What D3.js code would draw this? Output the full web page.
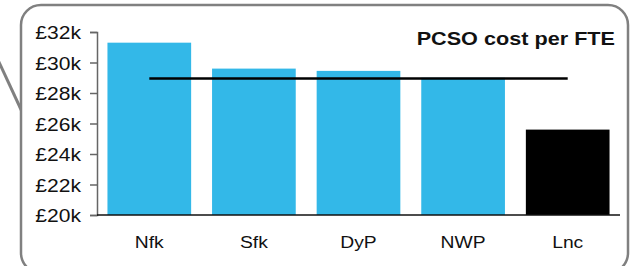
<!DOCTYPE html>
<html>
<head>
<meta charset="utf-8">
<script src="https://cdn.jsdelivr.net/npm/d3@7"></script>
<style>
  body { margin: 0; background: #fff; }
  text { font-family: "Liberation Sans", Arial, sans-serif; fill: #111; }
</style>
</head>
<body>
<svg id="chart" width="639" height="266"></svg>
<script>
// data
var categories = ["Nfk", "Sfk", "DyP", "NWP", "Lnc"];
var costs = [31.3, 29.6, 29.45, 29.0, 25.6];      // £k per FTE
var barColours = ["#33b8e8", "#33b8e8", "#33b8e8", "#33b8e8", "#000000"];
var average = 28.95;
var yTicks = [20, 22, 24, 26, 28, 30, 32];
var title = "PCSO cost per FTE";

var vis = d3.select("#chart"),
    STRETCH = 1.17,   // the original picture is widened a bit
    MARGINS = { left: 97, right: 19, top: 32, bottom: 51 },
    WIDTH = 639, HEIGHT = 266;

// callout pointer behind the frame
vis.append("line")
  .attr("x1", -2).attr("y1", 60).attr("x2", 24).attr("y2", 116)
  .attr("stroke", "#808080").attr("stroke-width", 3);

// rounded frame
vis.append("rect")
  .attr("x", 21).attr("y", 5).attr("width", 607).attr("height", 268)
  .attr("rx", 20).attr("ry", 20)
  .attr("fill", "#fff").attr("stroke", "#808080").attr("stroke-width", 2.5);

var xScale = d3.scaleBand().domain(categories)
  .range([MARGINS.left, WIDTH - MARGINS.right])
  .paddingInner(0.2).paddingOuter(0.1);
var yScale = d3.scaleLinear().domain([20, 32])
  .range([HEIGHT - MARGINS.bottom, MARGINS.top]);

// bars
vis.selectAll("rect.bar").data(categories).enter().append("rect")
  .attr("class", "bar")
  .attr("x", function(d) { return xScale(d); })
  .attr("width", xScale.bandwidth())
  .attr("y", function(d, i) { return yScale(costs[i]); })
  .attr("height", function(d, i) { return yScale(20) - yScale(costs[i]); })
  .attr("fill", function(d, i) { return barColours[i]; });

// y axis
var yAxis = d3.axisLeft(yScale).tickValues(yTicks).tickSize(7).tickPadding(0)
  .tickFormat(function(d) { return "£" + d + "k"; });
var gy = vis.append("g")
  .attr("transform", "translate(" + MARGINS.left + ",0)")
  .call(yAxis);
gy.select(".domain").attr("stroke", "#666").attr("stroke-width", 1.5);
gy.selectAll(".tick line").attr("stroke", "#666").attr("stroke-width", 1.5);
gy.selectAll(".tick text")
  .attr("font-size", 18).attr("fill", "#111")
  .attr("x", 0)
  .attr("transform", "translate(-16,0) scale(" + STRETCH + ",1)")
  .attr("dy", "0.38em");

// x baseline
vis.append("line")
  .attr("x1", MARGINS.left).attr("x2", WIDTH - MARGINS.right)
  .attr("y1", yScale(20)).attr("y2", yScale(20))
  .attr("stroke", "#111").attr("stroke-width", 1.5);

// category labels
vis.selectAll("g.cat").data(categories).enter().append("g")
  .attr("class", "cat")
  .attr("transform", function(d) {
    return "translate(" + (xScale(d) + xScale.bandwidth() / 2) + ",248) scale(" + STRETCH + ",1)";
  })
  .append("text")
  .attr("text-anchor", "middle").attr("font-size", 16.5)
  .text(function(d) { return d; });

// average line, first to last category centre
vis.append("line")
  .attr("x1", xScale(categories[0]) + xScale.bandwidth() / 2)
  .attr("x2", xScale(categories[categories.length - 1]) + xScale.bandwidth() / 2)
  .attr("y1", yScale(average)).attr("y2", yScale(average))
  .attr("stroke", "#000").attr("stroke-width", 2.5);

// title
vis.append("g")
  .attr("transform", "translate(615,45) scale(" + STRETCH + ",1)")
  .append("text")
  .attr("text-anchor", "end").attr("font-size", 18.5).attr("font-weight", "bold")
  .text(title);
</script>
</body>
</html>
